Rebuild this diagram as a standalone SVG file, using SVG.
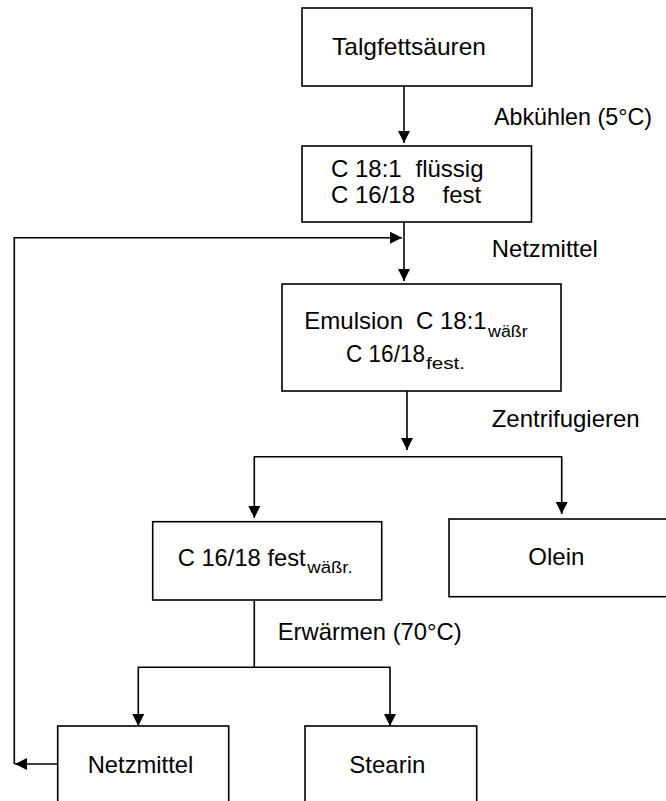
<svg xmlns="http://www.w3.org/2000/svg" width="666" height="801" viewBox="0 0 666 801">
<style>
  .box { fill: #fff; stroke: #000; stroke-width: 1.6; }
  .t { font-family: "Liberation Sans", Arial, sans-serif; font-size: 24px; fill: #000; }
  .sub { font-family: "Liberation Sans", Arial, sans-serif; font-size: 16px; fill: #000; }
  .c { fill: none; stroke: #000; stroke-width: 1.6; }
</style>
<defs>
  <marker id="ah" markerUnits="userSpaceOnUse" markerWidth="13" markerHeight="12" refX="12" refY="6" orient="auto">
    <path d="M0,0 L12,6 L0,12 Z" fill="#000"/>
  </marker>
</defs>
<rect width="666" height="801" fill="#fff"/>
<g id="connectors">
  <path class="c" d="M404,86 V143" marker-end="url(#ah)"/>
  <path class="c" d="M404,222 V281" marker-end="url(#ah)"/>
  <path class="c" d="M14.3,764 V237.7 H402" marker-end="url(#ah)"/>
  <path class="c" d="M57.7,764 H15" marker-end="url(#ah)"/>
  <path class="c" d="M407,391 V450" marker-end="url(#ah)"/>
  <path class="c" d="M407,456.7 H254.3 V518" marker-end="url(#ah)"/>
  <path class="c" d="M407,456.7 H561.7 V514" marker-end="url(#ah)"/>
  <path class="c" d="M254.3,600 V667.3 H138.3 V726" marker-end="url(#ah)"/>
  <path class="c" d="M254.3,667.3 H390 V726" marker-end="url(#ah)"/>
</g>
<g id="labels">
  <text class="t" x="494" y="125" textLength="158" lengthAdjust="spacingAndGlyphs">Abkühlen (5°C)</text>
  <text class="t" x="491.7" y="257.3" textLength="106" lengthAdjust="spacingAndGlyphs">Netzmittel</text>
  <text class="t" x="491.7" y="427" textLength="148" lengthAdjust="spacingAndGlyphs">Zentrifugieren</text>
  <text class="t" x="277.7" y="640" textLength="184" lengthAdjust="spacingAndGlyphs">Erwärmen (70°C)</text>
</g>
<g id="talgfettsaeuren">
  <rect class="box" x="302" y="8" width="230" height="78"/>
  <text class="t" x="332" y="55" textLength="154" lengthAdjust="spacingAndGlyphs">Talgfettsäuren</text>
</g>
<g id="gemisch">
  <rect class="box" x="302" y="146" width="229.5" height="76"/>
  <text class="t" y="176.7"><tspan x="331">C 18:1</tspan><tspan x="415.5">flüssig</tspan></text>
  <text class="t" y="203.3"><tspan x="331">C 16/18</tspan><tspan x="442.5">fest</tspan></text>
</g>
<g id="emulsion">
  <rect class="box" x="282" y="284" width="279" height="107"/>
  <text class="t" y="329.3"><tspan x="304.3">Emulsion</tspan><tspan x="416">C 18:1</tspan></text>
  <text class="sub" x="488" y="337.3" textLength="39.7" lengthAdjust="spacingAndGlyphs">wäßr</text>
  <text class="t" x="346" y="361.7" textLength="79" lengthAdjust="spacingAndGlyphs">C 16/18</text>
  <text class="sub" x="426" y="369.3" textLength="39" lengthAdjust="spacingAndGlyphs">fest.</text>
</g>
<g id="c1618-fest">
  <rect class="box" x="152.7" y="521.7" width="229" height="78.3"/>
  <text class="t" x="177.7" y="565.7" textLength="128" lengthAdjust="spacingAndGlyphs">C 16/18 fest</text>
  <text class="sub" x="307.3" y="573.3" textLength="45.4" lengthAdjust="spacingAndGlyphs">wäßr.</text>
</g>
<g id="olein">
  <rect class="box" x="449" y="519" width="230" height="77.7"/>
  <text class="t" x="528.3" y="565">Olein</text>
</g>
<g id="netzmittel">
  <rect class="box" x="57.7" y="726" width="171" height="90"/>
  <text class="t" x="87.7" y="773.3" textLength="105.6" lengthAdjust="spacingAndGlyphs">Netzmittel</text>
</g>
<g id="stearin">
  <rect class="box" x="305" y="726" width="171.7" height="90"/>
  <text class="t" x="349.3" y="773.3">Stearin</text>
</g>
</svg>
